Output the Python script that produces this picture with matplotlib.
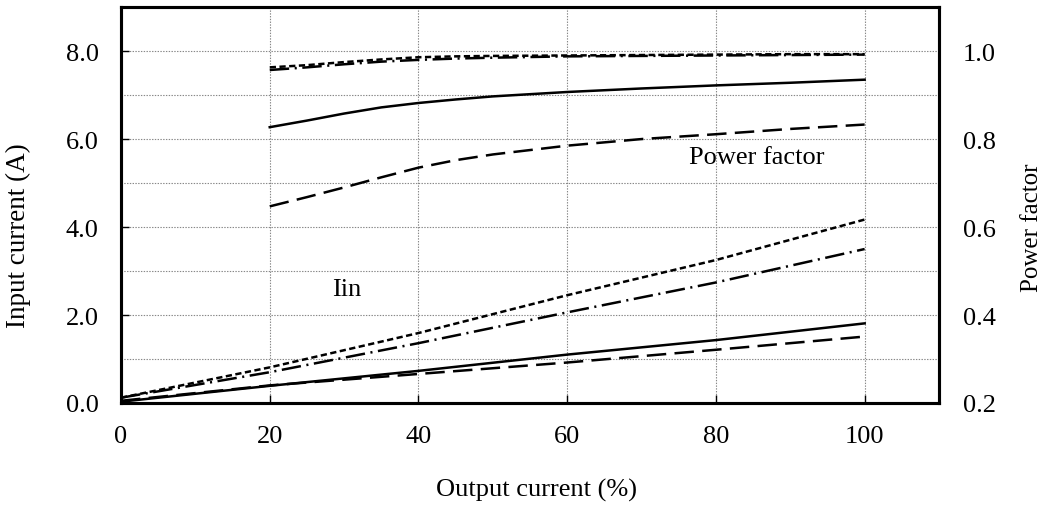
import matplotlib.pyplot as plt
from matplotlib.ticker import MultipleLocator

plt.rcParams['font.family'] = ['Liberation Serif', 'DejaVu Serif']
plt.rcParams['lines.scale_dashes'] = False

# power factor curves (right axis)
pf_x = [20, 25, 30, 35, 40, 45, 50, 60, 70, 80, 90, 100]
pf_solid = [0.827, 0.842, 0.858, 0.872, 0.882, 0.890, 0.897, 0.907, 0.915, 0.922, 0.928, 0.935]
pf_dashed = [0.647, 0.668, 0.690, 0.713, 0.735, 0.752, 0.765, 0.785, 0.800, 0.811, 0.823, 0.833]
pf_short = [0.963, 0.968, 0.975, 0.981, 0.986, 0.988, 0.989, 0.990, 0.991, 0.992, 0.993, 0.993]
pf_dashdot = [0.957, 0.963, 0.970, 0.976, 0.980, 0.983, 0.985, 0.988, 0.989, 0.990, 0.991, 0.992]

# input current curves (left axis)
iin_x = [0, 20, 40, 60, 80, 100]
iin_solid = [0.03, 0.39, 0.73, 1.10, 1.43, 1.81]
iin_dashed = [0.05, 0.40, 0.66, 0.92, 1.21, 1.51]
iin_short = [0.12, 0.81, 1.59, 2.45, 3.25, 4.17]
iin_dashdot = [0.12, 0.70, 1.36, 2.06, 2.74, 3.50]

styles = {
    'solid': '-',
    'dashed': (0, (14, 6)),
    'short': (0, (4.5, 2.5)),
    'dashdot': (0, (14, 4, 1.5, 4)),
}

fs = 19
fig = plt.figure(figsize=(10.46, 5.06), dpi=100)
ax = fig.add_axes([0.1157, 0.2016, 0.782, 0.7824])
ax2 = ax.twinx()

lw = 1.8
for y, k in [(iin_solid, 'solid'), (iin_dashed, 'dashed'), (iin_short, 'short'), (iin_dashdot, 'dashdot')]:
    ax.plot(iin_x, y, color='black', lw=lw, linestyle=styles[k])
for y, k in [(pf_solid, 'solid'), (pf_dashed, 'dashed'), (pf_short, 'short'), (pf_dashdot, 'dashdot')]:
    ax2.plot(pf_x, y, color='black', lw=lw, linestyle=styles[k])

ax.set_xlim(0, 110)
ax.set_ylim(0, 9)
ax2.set_ylim(0.2, 1.1)

ax.set_xticks([0, 20, 40, 60, 80, 100])
ax.set_yticks([0, 2, 4, 6, 8])
ax.set_yticklabels(['0.0', '2.0', '4.0', '6.0', '8.0'])
ax.yaxis.set_minor_locator(MultipleLocator(1))
ax2.set_yticks([0.2, 0.4, 0.6, 0.8, 1.0])
ax2.set_yticklabels(['0.2', '0.4', '0.6', '0.8', '1.0'])

# grid lines
for gx in [20, 40, 60, 80, 100]:
    ax.axvline(gx, color='#888888', lw=0.8, linestyle=(0, (1, 1)), zorder=0)
for gy in range(1, 9):
    ax.axhline(gy, color='#888888', lw=0.8, linestyle=(0, (1, 1)), zorder=0)

ax.tick_params(axis='both', direction='in', length=6, width=1, labelsize=fs)
ax.tick_params(axis='y', pad=16)
ax.tick_params(axis='x', pad=16)
ax.tick_params(axis='y', which='minor', length=0)
ax2.tick_params(axis='y', direction='in', length=0, labelsize=fs, pad=17)
for a in (ax, ax2):
    for s in a.spines.values():
        s.set_linewidth(2.2)

fig.text(537 / 1046, 1 - 490 / 506, 'Output current (%)', fontsize=fs, ha='center', va='center')
fig.text(18 / 1046, 1 - 236 / 506, 'Input current (A)', fontsize=19.5, ha='center', va='center', rotation=90)
fig.text(1032 / 1046, 1 - 228 / 506, 'Power factor', fontsize=18, ha='center', va='center', rotation=90)

ax.text(28.4, 2.6, 'Iin', fontsize=fs, va='center', ha='left')
ax.text(76.4, 5.6, 'Power factor', fontsize=fs, va='center', ha='left')

fig.savefig('out.png', dpi=100)
